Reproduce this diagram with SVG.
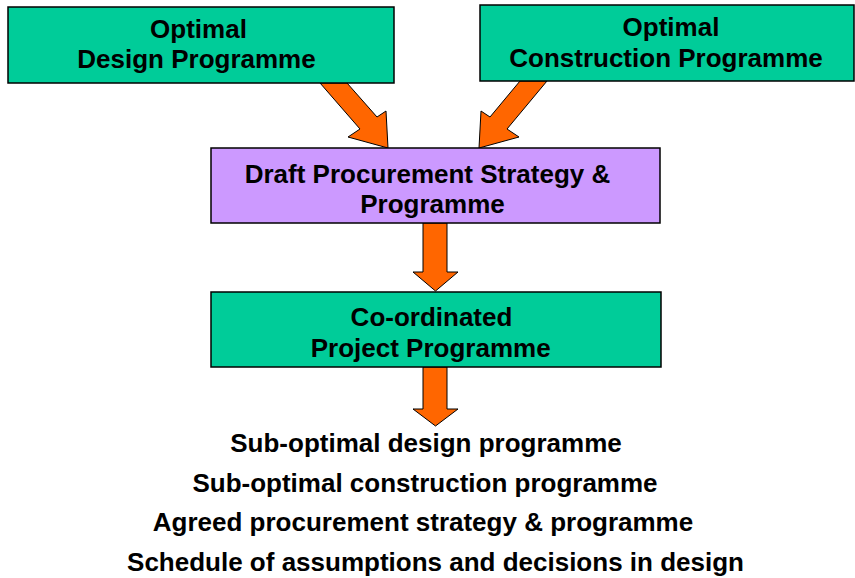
<svg xmlns="http://www.w3.org/2000/svg" width="855" height="578" viewBox="0 0 855 578">
  <style>
    .green { fill: #00CC99; stroke: #000; stroke-width: 1.5; }
    .purple { fill: #CC99FF; stroke: #000; stroke-width: 1.5; }
    .arrow { fill: #FF6600; stroke: #000; stroke-width: 1; stroke-linejoin: miter; }
    text { font-family: "Liberation Sans", Arial, sans-serif; font-weight: bold; font-size: 26px; fill: #000; text-anchor: middle; }
  </style>
  <rect width="855" height="578" fill="#fff"/>

  <!-- block arrows -->
  <g id="connectors">
    <polygon class="arrow" points="320,83 347,83 377,117 386,111 388,148 348,137 360,129"/>
    <polygon class="arrow" points="547,81 520,81 490,117 481,111 479,148 519,137 507,129"/>
    <polygon class="arrow" points="423,223 447,223 447,272 458,272 435.5,291 413,272 423,272"/>
    <polygon class="arrow" points="423,367 447,367 447,409 458,409 435.5,426 413,409 423,409"/>
  </g>

  <g id="optimal-design">
    <rect class="green" x="8" y="7" width="386" height="76"/>
    <text x="198.5" y="38">Optimal</text>
    <text x="196.5" y="68">Design Programme</text>
  </g>

  <g id="optimal-construction">
    <rect class="green" x="480" y="5" width="374" height="76"/>
    <text x="671" y="36">Optimal</text>
    <text x="666" y="67">Construction Programme</text>
  </g>

  <g id="draft-procurement">
    <rect class="purple" x="211" y="148" width="449" height="75"/>
    <text x="427.5" y="183">Draft Procurement Strategy &amp;</text>
    <text x="432.5" y="213">Programme</text>
  </g>

  <g id="coordinated-programme">
    <rect class="green" x="211" y="292" width="450" height="75"/>
    <text x="431.5" y="326">Co-ordinated</text>
    <text x="430.7" y="357">Project Programme</text>
  </g>

  <g id="outputs">
    <text x="426" y="452">Sub-optimal design programme</text>
    <text x="425" y="492">Sub-optimal construction programme</text>
    <text x="423" y="531">Agreed procurement strategy &amp; programme</text>
    <text x="435.5" y="571">Schedule of assumptions and decisions in design</text>
  </g>
</svg>
